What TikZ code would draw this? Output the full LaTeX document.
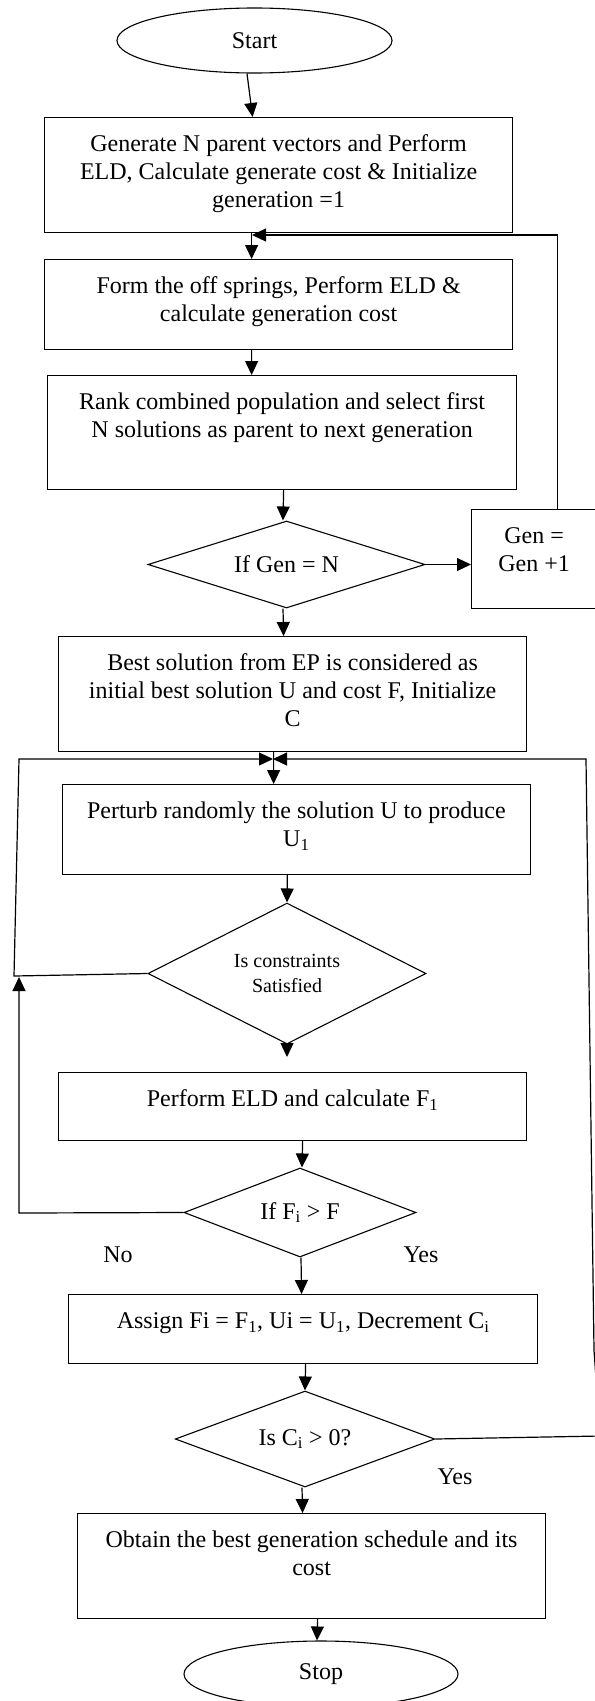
\documentclass[tikz,border=0pt]{standalone}
\usepackage{fontspec}
\setmainfont{Liberation Serif}
\usetikzlibrary{shapes.geometric,arrows.meta}
\newcommand\boxtxt[3]{\parbox[c][#2][t]{#1}{\centering\rule{0pt}{34bp}#3\par}}
\begin{document}
\begin{tikzpicture}[x=1bp,y=-1bp,
  every node/.style={font=\fontsize{24bp}{28bp}\selectfont},
  proc/.style={draw, line width=1.2bp, inner sep=0pt, anchor=north west},
  dec/.style={draw, diamond, line width=1.1bp, inner sep=0pt, shape aspect=2},
  term/.style={draw, ellipse, line width=1.1bp, inner sep=0pt, minimum width=275bp, minimum height=65bp},
  arr/.style={line width=1.2bp, -{Triangle[length=14bp,width=13bp]}},
  lbl/.style={inner sep=0pt}]
\useasboundingbox (0,0) rectangle (595,1701);
% nodes
\node[term] (start) at (254.5,40.5) {Start};
\node[proc] (b1) at (44,117) {\boxtxt{468bp}{115bp}{Generate N parent vectors and Perform\\ELD, Calculate generate cost \& Initialize\\generation =1}};
\node[proc] (b2) at (44,259) {\boxtxt{468bp}{90bp}{Form the off springs, Perform ELD \&\\calculate generation cost}};
\node[proc] (b3) at (47,375) {\boxtxt{469bp}{114bp}{Rank combined population and select first\\N solutions as parent to next generation}};
\node[dec, minimum width=277bp, minimum height=87bp] (d1) at (286.5,564.5) {If Gen = N};
\node[proc] (gen) at (471,509) {\boxtxt{125bp}{99bp}{Gen =\\Gen +1}};
\node[proc] (b4) at (58,636) {\boxtxt{468bp}{115bp}{Best solution from EP is considered as\\initial best solution U and cost F, Initialize\\C}};
\node[proc] (b5) at (61.5,784) {\boxtxt{468.5bp}{90bp}{Perturb randomly the solution U to produce\\U\textsubscript{1}}};
\node[dec, minimum width=278bp, minimum height=141bp, align=center, font=\fontsize{20bp}{25bp}\selectfont] (d2) at (287,973.5) {Is constraints\\Satisfied};
\node[proc] (b6) at (58,1072) {\boxtxt{468bp}{68bp}{Perform ELD and calculate F\textsubscript{1}}};
\node[dec, minimum width=232bp, minimum height=89bp] (d3) at (300,1212.5) {If F\textsubscript{i} > F};
\node[proc] (b7) at (68,1294) {\boxtxt{469bp}{69bp}{Assign Fi = F\textsubscript{1}, Ui = U\textsubscript{1}, Decrement C\textsubscript{i}}};
\node[dec, minimum width=259.5bp, minimum height=96bp] (d4) at (305,1439) {Is C\textsubscript{i} > 0?};
\node[proc] (b8) at (77,1513) {\boxtxt{468bp}{105bp}{Obtain the best generation schedule and its\\cost}};
\node[term, minimum width=274bp, minimum height=66bp] (stop) at (321,1674) {Stop};
\node[lbl] (no) at (118,1255) {No};
\node[lbl] (yes1) at (421,1255) {Yes};
\node[lbl] (yes2) at (455,1477) {Yes};
\coordinate (fb) at (252,235);
\coordinate (m) at (273,759);
% connectors
\draw[arr] ([xshift=-7.5bp]start.south) -- ([xshift=-26bp]b1.north);
\draw[arr] ([xshift=-27bp]b1.south) -- ([xshift=-27bp]b2.north);
\draw[arr] ([xshift=-27bp]b2.south) -- ([xshift=-30.5bp]b3.north);
\draw[arr] ([xshift=1.5bp]b3.south) -- ([xshift=-3.5bp]d1.north);
\draw[arr] (d1.east) -- (d1.east -| gen.west);
\draw[arr] ([xshift=23.5bp]gen.north) |- (fb);
\draw[arr] ([xshift=-3.5bp]d1.south) -- ([xshift=-9bp]b4.north);
\draw[arr] ([xshift=-19bp]b4.south) -- ([xshift=-22.75bp]b5.north);
\draw[arr] ([xshift=-9bp]b5.south) -- (d2.north);
\draw[arr, shorten >=15bp] (d2.south) -- (d2.south |- b6.north);
\draw[arr] ([xshift=10bp]b6.south) -- ([xshift=2bp]d3.north);
\draw[arr] ([xshift=1bp]d3.south) -- ([xshift=-1.5bp]b7.north);
\draw[arr] ([xshift=2.5bp]b7.south) -- (d4.north);
\draw[arr] ([xshift=-3bp]d4.south) -- ([xshift=-9bp]b8.north);
\draw[arr] ([xshift=6bp]b8.south) -- ([xshift=-4bp]stop.north);
% loops
\draw[arr] (d2.west) -- (14,976) -- (19,759) -- (m);
\draw[arr] (d3.west) -- (19,1213) -- (19,977);
\draw[arr] (d4.east) -- (600,1436) -- (594,1350) -- (586,759) -- (m);
\end{tikzpicture}
\end{document}
